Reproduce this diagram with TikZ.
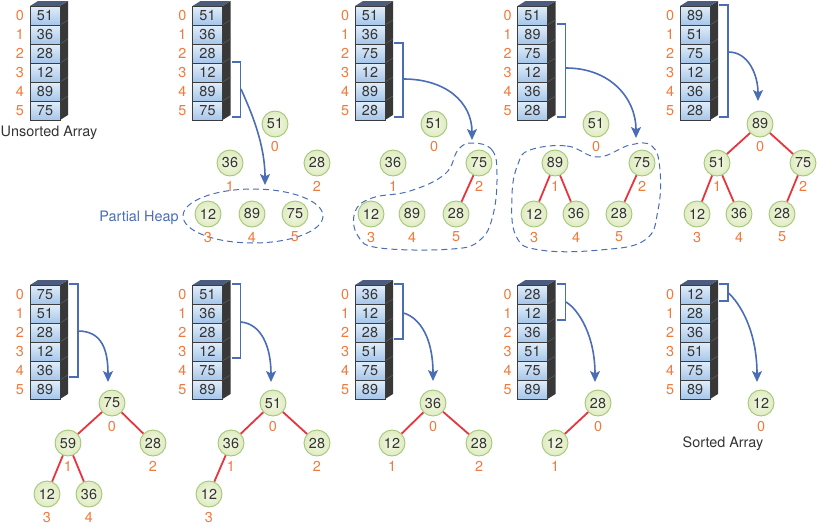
\documentclass[tikz,border=0pt]{standalone}
\usepackage{fontspec}
\setmainfont{TeX Gyre Heros}
\usetikzlibrary{arrows.meta}
\definecolor{idxc}{HTML}{F07A3C}
\definecolor{bluec}{HTML}{4A6DB5}
\definecolor{redc}{HTML}{E8343C}
\definecolor{nodef}{HTML}{E6F0C9}
\definecolor{noded}{HTML}{A5C67A}
\definecolor{cellt}{HTML}{E2EEFA}
\definecolor{cellb}{HTML}{A6C6EA}
\definecolor{celld}{HTML}{3C3C3C}
\definecolor{sidec}{HTML}{383838}
\definecolor{sidel}{HTML}{5A5A5A}
\definecolor{topc}{HTML}{4C5C7E}
\definecolor{txtc}{HTML}{333333}
\tikzset{
 every node/.style={font=\fontsize{14.4}{17}\selectfont},
 cell/.style={rectangle, minimum width=30pt, minimum height=19pt, inner sep=0pt, draw=celld, line width=0.8pt, top color=cellt, bottom color=cellb, text=txtc},
 idx/.style={text=idxc, inner sep=0pt},
 tnode/.style={circle, minimum size=26pt, inner sep=0pt, draw=noded, line width=0.9pt, inner color=nodef!50!white, outer color=nodef!90!noded, text=txtc},
 link/.style={draw=redc, line width=1.8pt},
 brk/.style={draw=bluec, line width=1.5pt},
 flow/.style={draw=bluec, line width=1.6pt, -{Stealth[length=11pt,width=10pt,inset=2.5pt]}},
 hull/.style={draw=bluec, line width=1pt, dash pattern=on 6pt off 4pt},
 lbl/.style={text=txtc, inner sep=0pt},
}
\newcommand{\harray}[4]{%
 \fill[sidec] (#2+30,#3) -- (#2+38,#3-5) -- (#2+38,#3+109) -- (#2+30,#3+114) -- cycle;
 \fill[topc] (#2,#3) -- (#2+8,#3-5) -- (#2+38,#3-5) -- (#2+30,#3) -- cycle;
 \foreach \k in {1,...,5} {\draw[sidel, line width=0.6pt] (#2+30,#3+19*\k) -- (#2+38,#3+19*\k-5);}
 \foreach \v [count=\i from 0] in {#4} {
   \node[cell] (#1-\i) at (#2+15,#3+9.5+19*\i) {\v};
   \node[idx] (#1-i\i) at (#2-10,#3+9.5+19*\i) {\i};
 }}
\newcommand{\hbrk}[4]{%
 \draw[brk] (#1+39,#2+19*#3-1) -- (#1+48,#2+19*#3-1) -- (#1+48,#2+19*#4+16) -- (#1+39,#2+19*#4+16);}
\newcommand{\hpnode}[5]{%
 \node[tnode] (#1) at (#2,#3) {#4};
 \node[idx] (#1i) at (#2,#3+23) {#5};}
\begin{document}
\begin{tikzpicture}[x=1pt,y=-1pt]
\useasboundingbox (0,0) rectangle (817,525);
% ---------- top row arrays
\harray{A1}{30}{6}{51,36,28,12,89,75}
\harray{A2}{192.5}{6}{51,36,28,12,89,75}
\harray{A3}{355}{6}{51,36,75,12,89,28}
\harray{A4}{517.5}{6}{51,89,75,12,36,28}
\harray{A5}{680}{6}{89,51,75,12,36,28}
\hbrk{192.5}{6}{3}{5}
\hbrk{355}{6}{2}{5}
\hbrk{517.5}{6}{1}{5}
\hbrk{680}{6}{0}{5}
\node[lbl] (unsorted) at (49,133) {Unsorted Array};
% ---------- bottom row arrays
\harray{B1}{30}{285}{75,51,28,12,36,89}
\harray{B2}{192.5}{285}{51,36,28,12,75,89}
\harray{B3}{355}{285}{36,12,28,51,75,89}
\harray{B4}{517.5}{285}{28,12,36,51,75,89}
\harray{B5}{680}{285}{12,28,36,51,75,89}
\hbrk{30}{285}{0}{4}
\hbrk{192.5}{285}{0}{3}
\hbrk{355}{285}{0}{2}
\hbrk{517.5}{285}{0}{1}
\hbrk{680}{285}{0}{0}
\node[lbl] (sorted) at (723,444) {Sorted Array};
% ---------- hulls
\draw[hull] (253,216) ellipse [x radius=70, y radius=27];
\node[text=bluec, inner sep=0pt] (partial) at (139,218) {Partial Heap};
\draw[hull] plot[smooth cycle, tension=0.7] coordinates {(472,143) (492,150) (497,175) (493,215) (480,240) (452,249) (380,248) (358,236) (355,212) (372,198) (410,191) (445,174) (458,150)};
\draw[hull] plot[smooth cycle, tension=0.7] coordinates {(530,150) (567,146) (598,157) (630,145) (652,146) (660,170) (658,210) (645,240) (600,250) (540,250) (516,236) (512,195) (518,164)};
% ---------- tree 2
\hpnode{ta}{275}{124}{51}{0}
\hpnode{tb}{230}{163}{36}{1}
\hpnode{tc}{317}{163}{28}{2}
\hpnode{td}{208}{214}{12}{3}
\hpnode{te}{252}{214}{89}{4}
\hpnode{tf}{295}{214}{75}{5}
% ---------- tree 3
\hpnode{ua}{434}{124}{51}{0}
\hpnode{ub}{393}{163}{36}{1}
\hpnode{uc}{479}{163}{75}{2}
\hpnode{ud}{371}{214}{12}{3}
\hpnode{ue}{412}{214}{89}{4}
\hpnode{uf}{456}{214}{28}{5}
\draw[link] (uc) -- (uf);
% ---------- tree 4
\hpnode{va}{596}{124}{51}{0}
\hpnode{vb}{555}{163}{89}{1}
\hpnode{vc}{642}{163}{75}{2}
\hpnode{vd}{534}{214}{12}{3}
\hpnode{ve}{576}{214}{36}{4}
\hpnode{vf}{619}{214}{28}{5}
\draw[link] (vb) -- (vd);
\draw[link] (vb) -- (ve);
\draw[link] (vc) -- (vf);
% ---------- tree 5
\hpnode{wa}{760}{124}{89}{0}
\hpnode{wb}{717}{163}{51}{1}
\hpnode{wc}{803}{163}{75}{2}
\hpnode{wd}{697}{214}{12}{3}
\hpnode{we}{739}{214}{36}{4}
\hpnode{wf}{782}{214}{28}{5}
\draw[link] (wa) -- (wb);
\draw[link] (wa) -- (wc);
\draw[link] (wb) -- (wd);
\draw[link] (wb) -- (we);
\draw[link] (wc) -- (wf);
% ---------- bottom tree 1
\hpnode{pa}{112}{403}{75}{0}
\hpnode{pb}{68}{443}{59}{1}
\hpnode{pc}{153}{443}{28}{2}
\hpnode{pd}{47}{494}{12}{3}
\hpnode{pe}{89}{494}{36}{4}
\draw[link] (pa) -- (pb);
\draw[link] (pa) -- (pc);
\draw[link] (pb) -- (pd);
\draw[link] (pb) -- (pe);
% ---------- bottom tree 2
\hpnode{qa}{273}{403}{51}{0}
\hpnode{qb}{231}{443}{36}{1}
\hpnode{qc}{317}{443}{28}{2}
\hpnode{qd}{209}{494}{12}{3}
\draw[link] (qa) -- (qb);
\draw[link] (qa) -- (qc);
\draw[link] (qb) -- (qd);
% ---------- bottom tree 3
\hpnode{ra}{433}{403}{36}{0}
\hpnode{rb}{392}{443}{12}{1}
\hpnode{rc}{479}{443}{28}{2}
\draw[link] (ra) -- (rb);
\draw[link] (ra) -- (rc);
% ---------- bottom tree 4
\hpnode{sa}{598}{403}{28}{0}
\hpnode{sb}{555}{443}{12}{1}
\draw[link] (sa) -- (sb);
% ---------- bottom tree 5
\hpnode{za}{761}{403}{12}{0}
% ---------- arrows
\coordinate (s2) at (241,89);   \coordinate (e2) at (265,185);
\coordinate (s3) at (403.5,79); \coordinate (e3) at (472,140);
\coordinate (s4) at (566,68);   \coordinate (e4) at (636,138);
\coordinate (s5) at (728.5,52); \coordinate (e5) at (758,101);
\draw[flow] (s2) .. controls +(6,14) and +(0,-45) .. (e2);
\draw[flow] (s3) .. controls +(42,0) and +(0,-38) .. (e3);
\draw[flow] (s4) .. controls +(44,0) and +(0,-40) .. (e4);
\draw[flow] (s5) .. controls +(20,0) and +(0,-26) .. (e5);
\coordinate (t1) at (78,331);   \coordinate (f1) at (108,382);
\coordinate (t2) at (241,322);  \coordinate (f2) at (271,382);
\coordinate (t3) at (403.5,313); \coordinate (f3) at (433,381);
\coordinate (t4) at (566,302);  \coordinate (f4) at (595,382);
\coordinate (t5) at (728.5,293); \coordinate (f5) at (757,382);
\draw[flow] (t1) .. controls +(24,0) and +(0,-32) .. (f1);
\draw[flow] (t2) .. controls +(20,2) and +(0,-36) .. (f2);
\draw[flow] (t3) .. controls +(17,5) and +(0,-42) .. (f3);
\draw[flow] (t4) .. controls +(13,8) and +(0,-46) .. (f4);
\draw[flow] (t5) .. controls +(11,10) and +(0,-52) .. (f5);
\end{tikzpicture}
\end{document}
